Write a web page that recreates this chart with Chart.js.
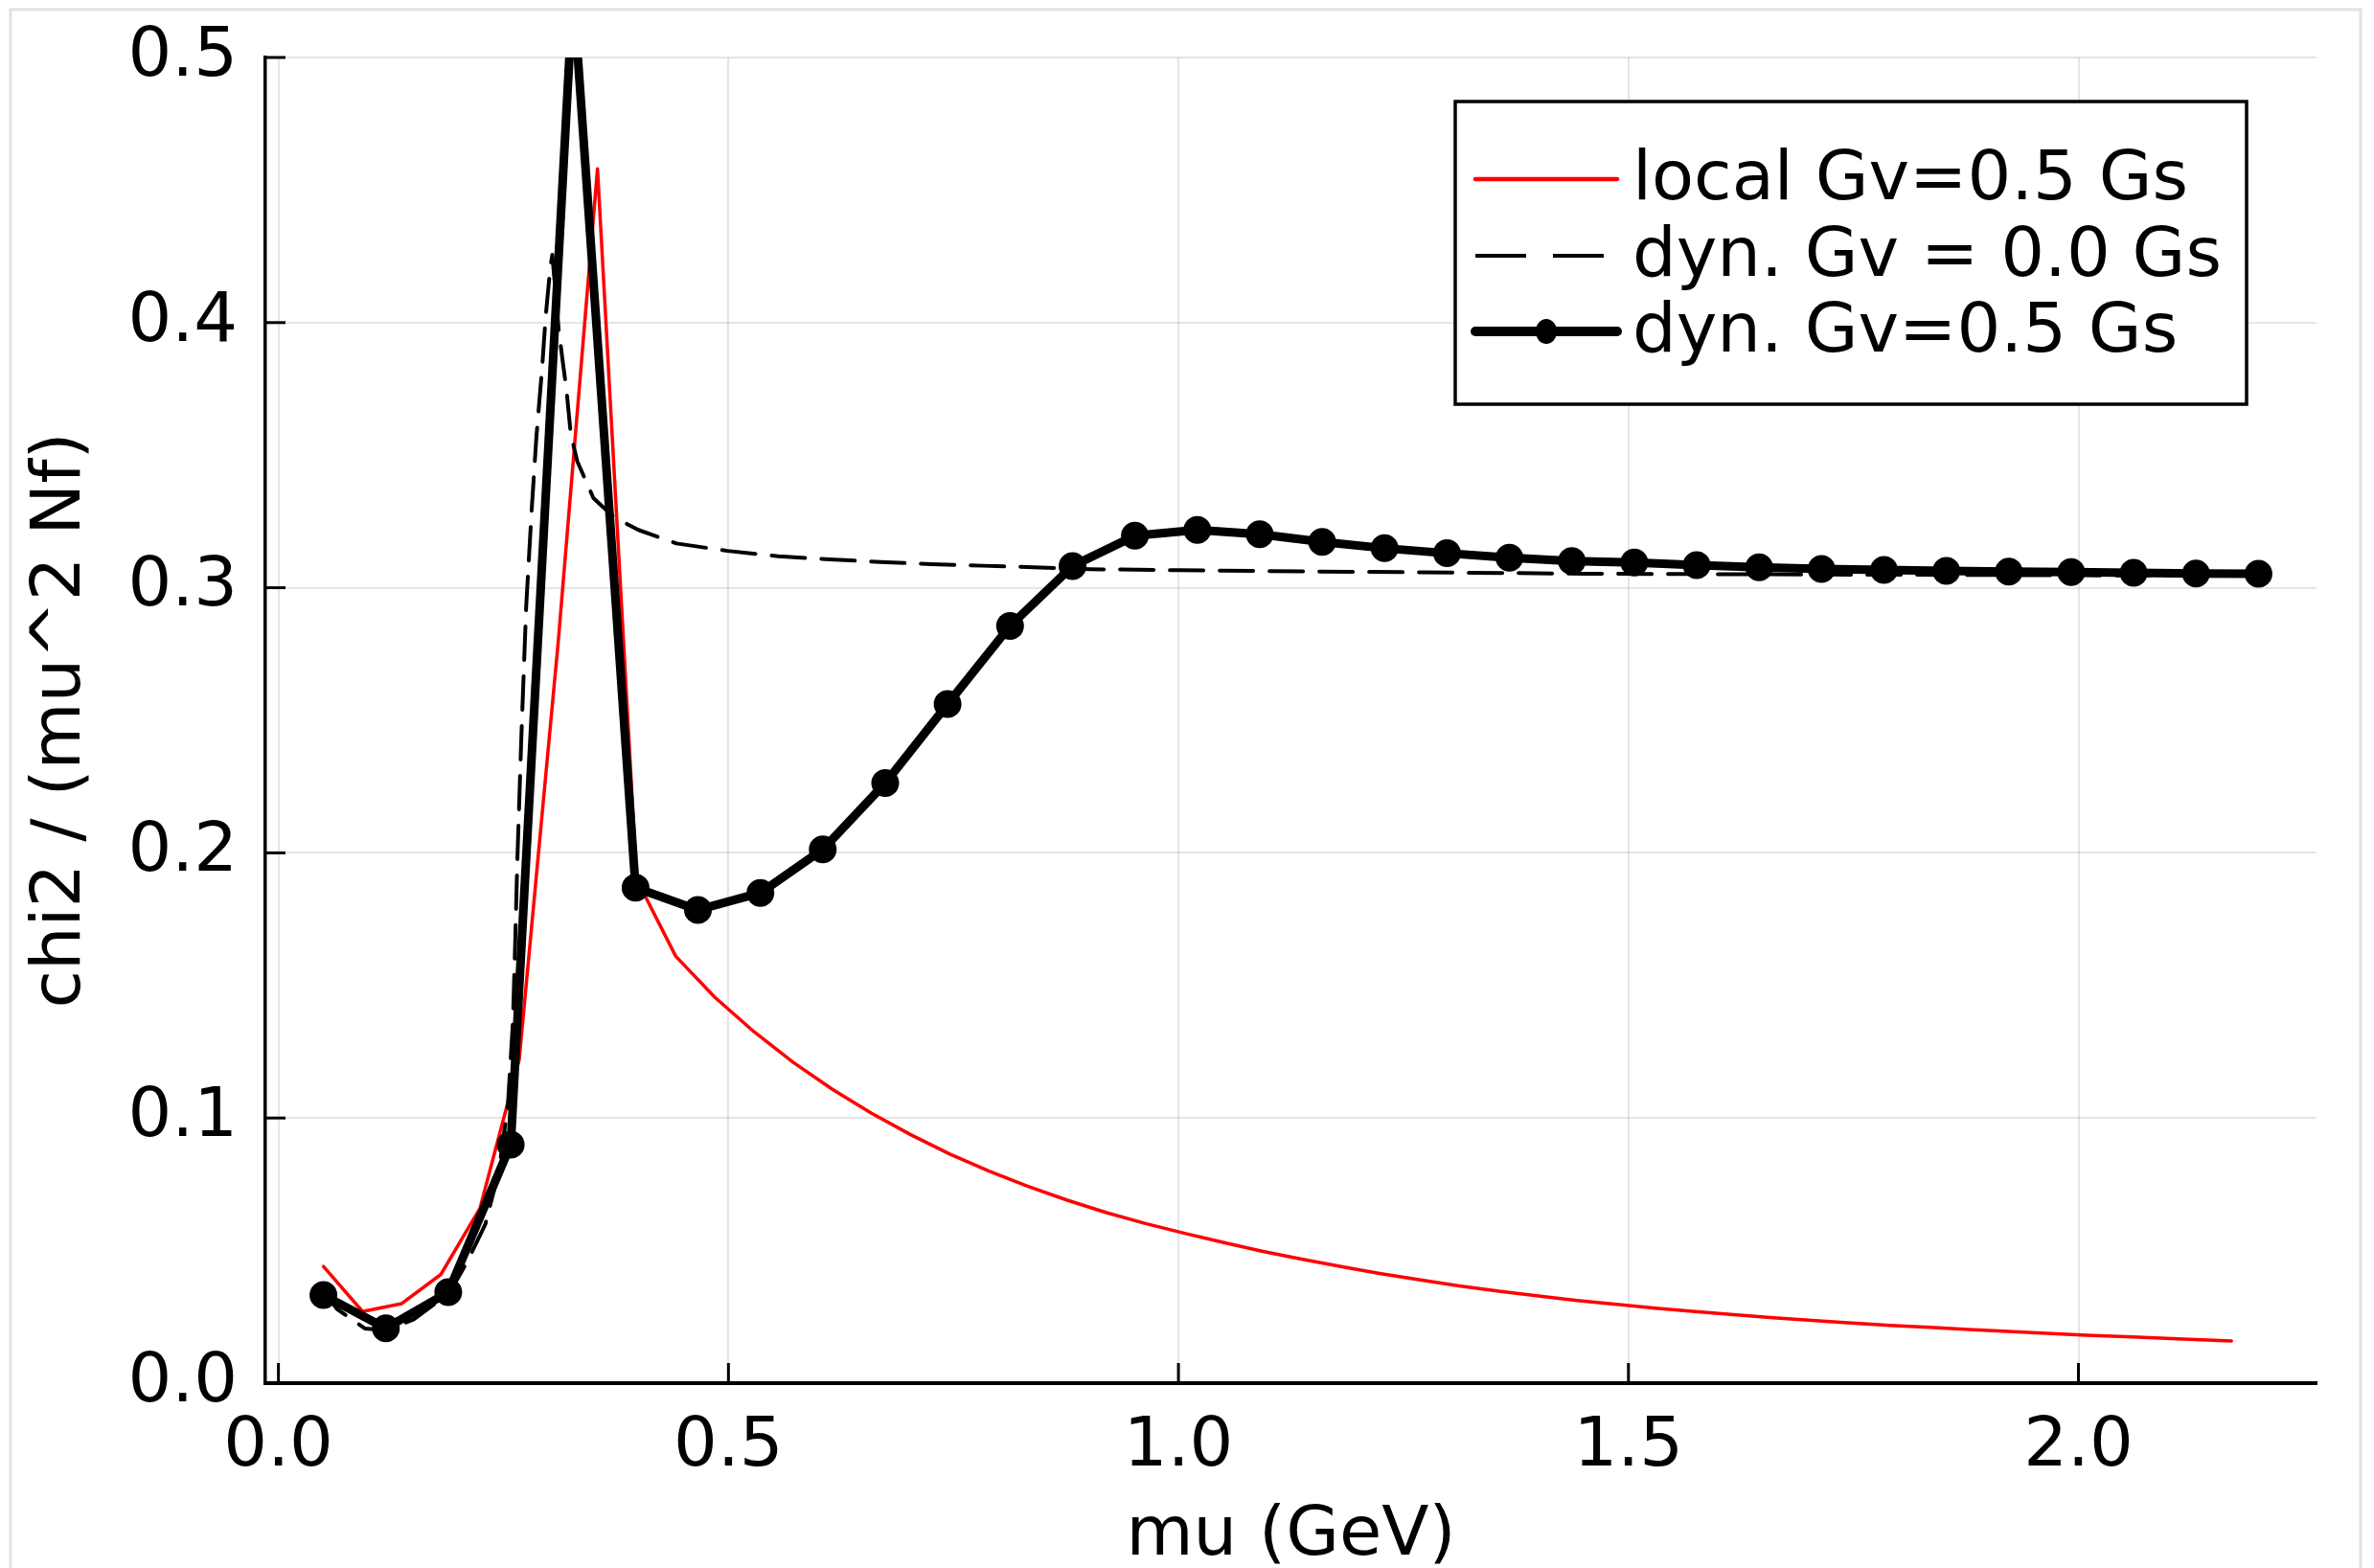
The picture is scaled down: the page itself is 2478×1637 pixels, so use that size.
<!DOCTYPE html>
<html>
<head>
<meta charset="utf-8">
<title>chi2 vs mu</title>
<script src="https://cdn.jsdelivr.net/npm/chart.js@4.4.1/dist/chart.umd.min.js"></script>
<style>
  html, body { margin: 0; padding: 0; background: #fff; }
  canvas { display: block; }
</style>
</head>
<body>
<canvas id="chiChart" width="2478" height="1637"></canvas>
<script>
// local model, Gv = 0.5 Gs
const muLocal = [0.05, 0.0935, 0.137, 0.1805, 0.224, 0.2675, 0.311, 0.3545, 0.398, 0.4415,
    0.485, 0.5285, 0.572, 0.6155, 0.659, 0.7025, 0.746, 0.7895, 0.833, 0.8765,
    0.92, 0.9635, 1.007, 1.0505, 1.094, 1.138, 1.182, 1.225, 1.269, 1.312,
    1.356, 1.40, 1.443, 1.487, 1.53, 1.574, 1.617, 1.661, 1.704, 1.748,
    1.791, 1.835, 1.878, 1.922, 1.965, 2.009, 2.06, 2.11, 2.17];
const chiLocal = [0.044, 0.027, 0.030, 0.041, 0.066, 0.122, 0.280, 0.458, 0.190, 0.161,
    0.1455, 0.1325, 0.1210, 0.1108, 0.1018, 0.0937, 0.0864, 0.0800, 0.0742, 0.0690,
    0.0643, 0.0602, 0.0565, 0.0530, 0.0497, 0.0467, 0.0439, 0.0413, 0.0389, 0.0367,
    0.0347, 0.0329, 0.0312, 0.0297, 0.0283, 0.0270, 0.0258, 0.0247, 0.0237, 0.0227,
    0.0218, 0.0210, 0.0202, 0.0195, 0.0188, 0.0181, 0.0174, 0.0167, 0.0159];

// dynamical model, Gv = 0.0 Gs
const muDyn00 = [0.05, 0.065, 0.096, 0.12, 0.15, 0.19, 0.21, 0.23, 0.245, 0.255,
    0.2605, 0.2626, 0.2654, 0.270, 0.2753, 0.2813, 0.2866, 0.293, 0.297, 0.302,
    0.3043, 0.3113, 0.316, 0.320, 0.3248, 0.332, 0.3415, 0.350, 0.3588, 0.373,
    0.40, 0.4423, 0.499, 0.5555, 0.612, 0.669, 0.725, 0.782, 0.8386, 0.902,
    1.0, 1.2, 1.45, 1.7, 2.0, 2.2];
const chiDyn00 = [0.035, 0.028, 0.0206, 0.020, 0.024, 0.034, 0.046, 0.060, 0.080, 0.105,
    0.136, 0.160, 0.1965, 0.2446, 0.293, 0.329, 0.3567, 0.383, 0.4025, 0.4205,
    0.4256, 0.3977, 0.385, 0.3748, 0.358, 0.3477, 0.3404, 0.3338, 0.331, 0.3266,
    0.3218, 0.3167, 0.3139, 0.3119, 0.3107, 0.3097, 0.3089, 0.3083, 0.3077, 0.3070,
    0.3066, 0.306, 0.3053, 0.305, 0.3047, 0.3045];

// dynamical model, Gv = 0.5 Gs
const muDyn05 = [0.05, 0.1194, 0.1887, 0.2581, 0.3274, 0.3968, 0.4661, 0.5355, 0.6048, 0.6742,
    0.7435, 0.8129, 0.8823, 0.9516, 1.0210, 1.0903, 1.1597, 1.2290, 1.2984, 1.3677,
    1.4371, 1.5065, 1.5758, 1.6452, 1.7145, 1.7839, 1.8532, 1.9226, 1.9919, 2.0613,
    2.1306, 2.2];
const chiDyn05 = [0.0332, 0.0207, 0.0343, 0.090, 0.526, 0.1869, 0.1785, 0.1849, 0.2013, 0.2263,
    0.2561, 0.2856, 0.3082, 0.3196, 0.3218, 0.3202, 0.3173, 0.3149, 0.3130, 0.3113,
    0.3101, 0.3095, 0.3085, 0.3077, 0.3071, 0.3067, 0.3064, 0.3061, 0.3059, 0.3056,
    0.3054, 0.3053];

const seriesLabels = ['local Gv=0.5 Gs', 'dyn. Gv = 0.0 Gs', 'dyn. Gv=0.5 Gs'];
const xTicks = [0.0, 0.5, 1.0, 1.5, 2.0];
const yTicks = [0.0, 0.1, 0.2, 0.3, 0.4, 0.5];

const FONT = 'DejaVu Sans';
Chart.defaults.font.family = FONT;
Chart.defaults.font.size = 72;
Chart.defaults.color = '#000';

function toPoints(xs, ys) {
    return xs.map((x, i) => ({ x: x, y: ys[i] }));
}

// thin grey frame round the whole figure
const figureFrame = {
    id: 'figureFrame',
    beforeDraw(chart) {
        const ctx = chart.ctx;
        ctx.save();
        ctx.strokeStyle = '#e2e2e2';
        ctx.lineWidth = 3;
        ctx.strokeRect(11, 10, 2453, chart.height + 20);
        ctx.restore();
    }
};

// inward tick marks on both axes (GR style)
const innerTicks = {
    id: 'innerTicks',
    beforeDatasetsDraw(chart) {
        const { ctx, chartArea, scales } = chart;
        ctx.save();
        ctx.strokeStyle = '#000';
        ctx.lineWidth = 3;
        scales.x.ticks.forEach(t => {
            const px = scales.x.getPixelForValue(t.value);
            ctx.beginPath();
            ctx.moveTo(px, chartArea.bottom);
            ctx.lineTo(px, chartArea.bottom - 21);
            ctx.stroke();
        });
        scales.y.ticks.forEach(t => {
            const py = scales.y.getPixelForValue(t.value);
            ctx.beginPath();
            ctx.moveTo(chartArea.left, py);
            ctx.lineTo(chartArea.left + 21, py);
            ctx.stroke();
        });
        ctx.restore();
    }
};

// boxed legend in the upper right of the plot
const boxLegend = {
    id: 'boxLegend',
    afterDraw(chart) {
        const ctx = chart.ctx;
        const box = { left: 1519, top: 106, right: 2345, bottom: 422 };
        const rowY = [187, 267, 346];
        const sampleX0 = 1540, sampleX1 = 1688, textX = 1704;
        ctx.save();
        ctx.fillStyle = '#fff';
        ctx.fillRect(box.left, box.top, box.right - box.left, box.bottom - box.top);
        ctx.strokeStyle = '#000';
        ctx.lineWidth = 3.5;
        ctx.strokeRect(box.left, box.top, box.right - box.left, box.bottom - box.top);

        chart.data.datasets.forEach((ds, i) => {
            const y = rowY[i];
            ctx.save();
            ctx.strokeStyle = ds.borderColor;
            ctx.lineWidth = ds.legendWidth;
            ctx.lineCap = 'round';
            if (ds.borderDash && ds.borderDash.length) {
                ctx.lineCap = 'butt';
                ctx.setLineDash([53, 28]);
            }
            ctx.beginPath();
            ctx.moveTo(sampleX0, y);
            ctx.lineTo(sampleX1, y);
            ctx.stroke();
            if (ds.pointRadius > 0) {
                ctx.fillStyle = ds.pointBackgroundColor;
                ctx.beginPath();
                ctx.ellipse((sampleX0 + sampleX1) / 2, y, 11, 13, 0, 0, Math.PI * 2);
                ctx.fill();
            }
            ctx.restore();
            ctx.fillStyle = '#000';
            ctx.font = '72px "' + FONT + '"';
            ctx.textAlign = 'left';
            ctx.textBaseline = 'middle';
            ctx.fillText(ds.label, textX, y + 2);
        });
        ctx.restore();
    }
};

const chiChart = new Chart(document.getElementById('chiChart'), {
    type: 'line',
    data: {
        datasets: [
            {
                label: seriesLabels[0],
                data: toPoints(muLocal, chiLocal),
                borderColor: '#ff0000',
                borderWidth: 3.5,
                legendWidth: 4.5,
                pointRadius: 0,
                order: 3
            },
            {
                label: seriesLabels[1],
                data: toPoints(muDyn00, chiDyn00),
                borderColor: '#000',
                borderWidth: 4,
                legendWidth: 4,
                borderDash: [35, 17],
                pointRadius: 0,
                order: 2
            },
            {
                label: seriesLabels[2],
                data: toPoints(muDyn05, chiDyn05),
                borderColor: '#000',
                borderWidth: 9,
                legendWidth: 10,
                pointRadius: 14.5,
                pointBackgroundColor: '#000',
                pointBorderWidth: 0,
                order: 1
            }
        ]
    },
    options: {
        responsive: false,
        animation: false,
        devicePixelRatio: 1,
        clip: 0,
        layout: { padding: { left: 0, top: 60, right: 60, bottom: 0 } },
        elements: { line: { tension: 0, borderJoinStyle: 'round', borderCapStyle: 'round' } },
        plugins: {
            legend: { display: false },
            tooltip: { enabled: false }
        },
        scales: {
            x: {
                type: 'linear',
                min: -0.0145,
                max: 2.2645,
                afterBuildTicks: scale => { scale.ticks = xTicks.map(v => ({ value: v })); },
                afterFit: scale => {
                    scale.height = 193;
                    scale.paddingLeft = 0;
                    scale.paddingRight = 0;
                },
                grid: { color: 'rgba(0,0,0,0.1)', lineWidth: 2, drawTicks: false },
                border: { color: '#000', width: 4 },
                ticks: {
                    padding: 24,
                    maxRotation: 0,
                    callback: v => Number(v).toFixed(1)
                },
                title: {
                    display: true,
                    text: 'mu (GeV)',
                    font: { size: 72, lineHeight: 0.8 },
                    padding: { top: 0, bottom: 4 }
                }
            },
            y: {
                min: 0,
                max: 0.5,
                afterBuildTicks: scale => { scale.ticks = yTicks.map(v => ({ value: v })); },
                afterFit: scale => {
                    scale.width = 277;
                    scale.paddingTop = 0;
                    scale.paddingBottom = 0;
                },
                grid: { color: 'rgba(0,0,0,0.1)', lineWidth: 2, drawTicks: false },
                border: { color: '#000', width: 3.5 },
                ticks: {
                    padding: 29,
                    callback: v => Number(v).toFixed(1)
                },
                title: {
                    display: true,
                    text: 'chi2 / (mu^2 Nf)',
                    font: { size: 72, lineHeight: 1 },
                    padding: { top: 28, bottom: 0 }
                }
            }
        }
    },
    plugins: [figureFrame, innerTicks, boxLegend]
});
</script>
</body>
</html>
